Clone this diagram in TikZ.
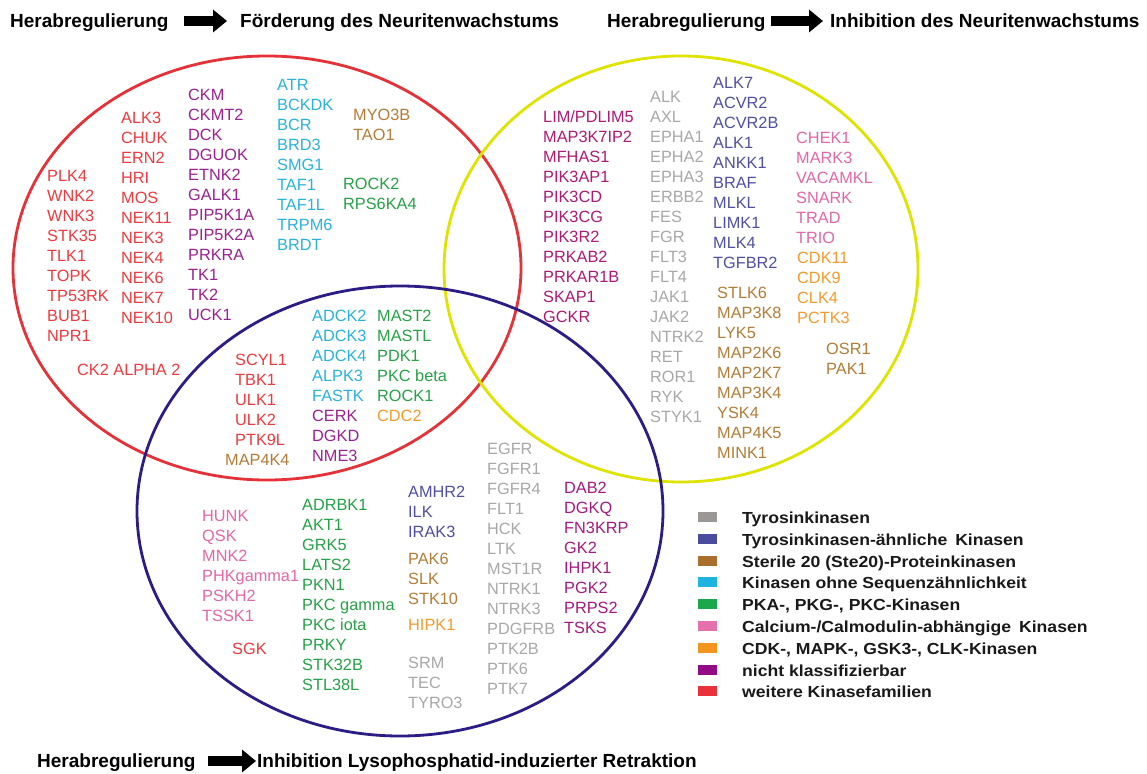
\documentclass[tikz,border=0pt]{standalone}
\usepackage{fontspec}
\setmainfont{Liberation Sans}
\newfontfamily\legfont{Liberation Sans}[FakeStretch=1.1]
\usetikzlibrary{arrows.meta}
\definecolor{cGray}{HTML}{A8A8A8}
\definecolor{cInd}{HTML}{4F4FA3}
\definecolor{cBrown}{HTML}{B27D37}
\definecolor{cCyan}{HTML}{29B2DC}
\definecolor{cGreen}{HTML}{25A146}
\definecolor{cPink}{HTML}{E167A7}
\definecolor{cOrange}{HTML}{F29A2E}
\definecolor{cPurp}{HTML}{9A2191}
\definecolor{cPurpB}{HTML}{AD1A74}
\definecolor{cPurpC}{HTML}{A41A80}
\definecolor{cRed}{HTML}{EC3A3E}
\definecolor{lgGray}{HTML}{9B9797}
\definecolor{lgInd}{HTML}{4C4C9E}
\definecolor{lgBrown}{HTML}{A8702C}
\definecolor{lgCyan}{HTML}{1DB4E0}
\definecolor{lgGreen}{HTML}{1BA84B}
\definecolor{lgPink}{HTML}{E470AC}
\definecolor{lgOrange}{HTML}{F49420}
\definecolor{lgPurp}{HTML}{930C86}
\definecolor{lgRed}{HTML}{E8313A}
\definecolor{ellRed}{HTML}{E53238}
\definecolor{ellYel}{HTML}{DFE300}
\definecolor{ellBlue}{HTML}{2B1D85}
\newcommand\kcolumn[5]{%
  \foreach \t [count=\i] in {#5}
    \node[kin,text=#4] (#1-\i) at (#2,{#3+20*(\i-1)}) {\t};}
\begin{document}
\begin{tikzpicture}[x=1pt,y=-1pt,
  kin/.style={anchor=west,inner sep=0pt,text height=11.7pt,text depth=0pt,
    font=\fontsize{16.3}{19}\selectfont},
  ttl/.style={anchor=west,inner sep=0pt,text height=13.6pt,text depth=0pt,
    font=\fontsize{19}{22}\selectfont\bfseries},
  leg/.style={anchor=west,inner sep=0pt,text height=11.5pt,text depth=0pt,
    text=black!90,font=\legfont\fontsize{16}{19}\selectfont\bfseries},
  legsq/.style={inner sep=0pt,minimum width=19pt,minimum height=9.5pt,draw=none},
  bigarr/.style={line width=10pt,-{Triangle[length=14pt,width=22pt]}},
  ell/.style={line width=2.8pt}]
\useasboundingbox (0,0) rectangle (1147,773);
\fill[white] (0,0) rectangle (1147,773);

% ellipses
\draw[ell,ellRed] (267,268) ellipse [x radius=254,y radius=212];
\draw[ell,ellYel] (681,269) ellipse [x radius=237,y radius=213];
\draw[ell,ellBlue] (400,511) ellipse [x radius=263,y radius=225];

% titles
\node[ttl] (h1) at (10,21) {Herabregulierung};
\node[ttl] (t1) at (240,21) {Förderung des Neuritenwachstums};
\draw[bigarr] ([xshift=15pt]h1.east) -- ([xshift=-13pt]t1.west);
\node[ttl] (h2) at (607,21) {Herabregulierung};
\node[ttl] (t2) at (830,21) {Inhibition des Neuritenwachstums};
\draw[bigarr] ([xshift=5pt]h2.east) -- ([xshift=-7pt]t2.west);
\node[ttl] (h3) at (37,761) {Herabregulierung};
\node[ttl] (t3) at (257,761) {Inhibition Lysophosphatid-induzierter Retraktion};
\draw[bigarr] ([xshift=12pt]h3.east) -- ([xshift=-1pt]t3.west);

% red circle only
\kcolumn{ra}{47}{176}{cRed}{PLK4,WNK2,WNK3,STK35,TLK1,TOPK,TP53RK,BUB1,NPR1}
\kcolumn{rb}{121}{118}{cRed}{ALK3,CHUK,ERN2,HRI,MOS,NEK11,NEK3,NEK4,NEK6,NEK7,NEK10}
\kcolumn{rc}{188}{95}{cPurp}{CKM,CKMT2,DCK,DGUOK,ETNK2,GALK1,PIP5K1A,PIP5K2A,PRKRA,TK1,TK2,UCK1}
\kcolumn{rd}{277}{85}{cCyan}{ATR,BCKDK,BCR,BRD3,SMG1,TAF1,TAF1L,TRPM6,BRDT}
\kcolumn{re}{353}{115}{cBrown}{MYO3B,TAO1}
\kcolumn{rf}{343}{184}{cGreen}{ROCK2,RPS6KA4}
\node[kin,text=cRed] (ck2) at (77,370) {CK2 ALPHA 2};

% red and blue
\kcolumn{xa}{235}{360}{cRed}{SCYL1,TBK1,ULK1,ULK2,PTK9L}
\node[kin,text=cBrown] (map4k4) at (225,460) {MAP4K4};
\kcolumn{xb}{312}{316}{cCyan}{ADCK2,ADCK3,ADCK4,ALPK3,FASTK}
\kcolumn{xc}{312}{416}{cPurp}{CERK,DGKD,NME3}
\kcolumn{xd}{377}{316}{cGreen}{MAST2,MASTL,PDK1,PKC beta,ROCK1}
\node[kin,text=cOrange] (cdc2) at (377,416) {CDC2};

% yellow circle
\kcolumn{ya}{543}{117}{cPurpB}{LIM/PDLIM5,MAP3K7IP2,MFHAS1,PIK3AP1,PIK3CD,PIK3CG,PIK3R2,PRKAB2,PRKAR1B,SKAP1,GCKR}
\kcolumn{yb}{650}{97}{cGray}{ALK,AXL,EPHA1,EPHA2,EPHA3,ERBB2,FES,FGR,FLT3,FLT4,JAK1,JAK2,NTRK2,RET,ROR1,RYK,STYK1}
\kcolumn{yc}{713}{83}{cInd}{ALK7,ACVR2,ACVR2B,ALK1,ANKK1,BRAF,MLKL,LIMK1,MLK4,TGFBR2}
\kcolumn{yd}{717}{293}{cBrown}{STLK6,MAP3K8,LYK5,MAP2K6,MAP2K7,MAP3K4,YSK4,MAP4K5,MINK1}
\kcolumn{ye}{796}{138}{cPink}{CHEK1,MARK3,VACAMKL,SNARK,TRAD,TRIO}
\kcolumn{yf}{797}{258}{cOrange}{CDK11,CDK9,CLK4,PCTK3}
\kcolumn{yg}{826}{349}{cBrown}{OSR1,PAK1}

% blue circle only
\kcolumn{ba}{202}{516}{cPink}{HUNK,QSK,MNK2,PHKgamma1,PSKH2,TSSK1}
\node[kin,text=cRed] (sgk) at (232,649) {SGK};
\kcolumn{bb}{302}{505}{cGreen}{ADRBK1,AKT1,GRK5,LATS2,PKN1,PKC gamma,PKC iota,PRKY,STK32B,STL38L}
\kcolumn{bc}{408}{492}{cInd}{AMHR2,ILK,IRAK3}
\kcolumn{bd}{408}{559}{cBrown}{PAK6,SLK,STK10}
\node[kin,text=cOrange] (hipk1) at (408,625) {HIPK1};
\kcolumn{be}{408}{663}{cGray}{SRM,TEC,TYRO3}
\kcolumn{bf}{487}{449}{cGray}{EGFR,FGFR1,FGFR4,FLT1,HCK,LTK,MST1R,NTRK1,NTRK3,PDGFRB,PTK2B,PTK6,PTK7}
\kcolumn{bg}{564}{488}{cPurpC}{DAB2,DGKQ,FN3KRP,GK2,IHPK1,PGK2,PRPS2,TSKS}

% legend
\node[legsq,fill=lgGray]   (s1) at (707.5,517) {};
\node[legsq,fill=lgInd]    (s2) at (707.5,539) {};
\node[legsq,fill=lgBrown]  (s3) at (707.5,561) {};
\node[legsq,fill=lgCyan]   (s4) at (707.5,582) {};
\node[legsq,fill=lgGreen]  (s5) at (707.5,604) {};
\node[legsq,fill=lgPink]   (s6) at (707.5,626) {};
\node[legsq,fill=lgOrange] (s7) at (707.5,648) {};
\node[legsq,fill=lgPurp]   (s8) at (707.5,670) {};
\node[legsq,fill=lgRed]    (s9) at (707.5,691) {};
\node[leg] (l1) at (742,518) {Tyrosinkinasen};
\node[leg] (l2) at (742,540) {Tyrosinkinasen-ähnliche\hspace{0.5em}Kinasen};
\node[leg] (l3) at (742,562) {Sterile 20 (Ste20)-Proteinkinasen};
\node[leg] (l4) at (742,583) {Kinasen ohne Sequenzähnlichkeit};
\node[leg] (l5) at (742,605) {PKA-, PKG-, PKC-Kinasen};
\node[leg] (l6) at (742,627) {Calcium-/Calmodulin-abhängige\hspace{0.5em}Kinasen};
\node[leg] (l7) at (742,649) {CDK-, MAPK-, GSK3-, CLK-Kinasen};
\node[leg] (l8) at (742,671) {nicht klassifizierbar};
\node[leg] (l9) at (742,692) {weitere Kinasefamilien};
\end{tikzpicture}
\end{document}
